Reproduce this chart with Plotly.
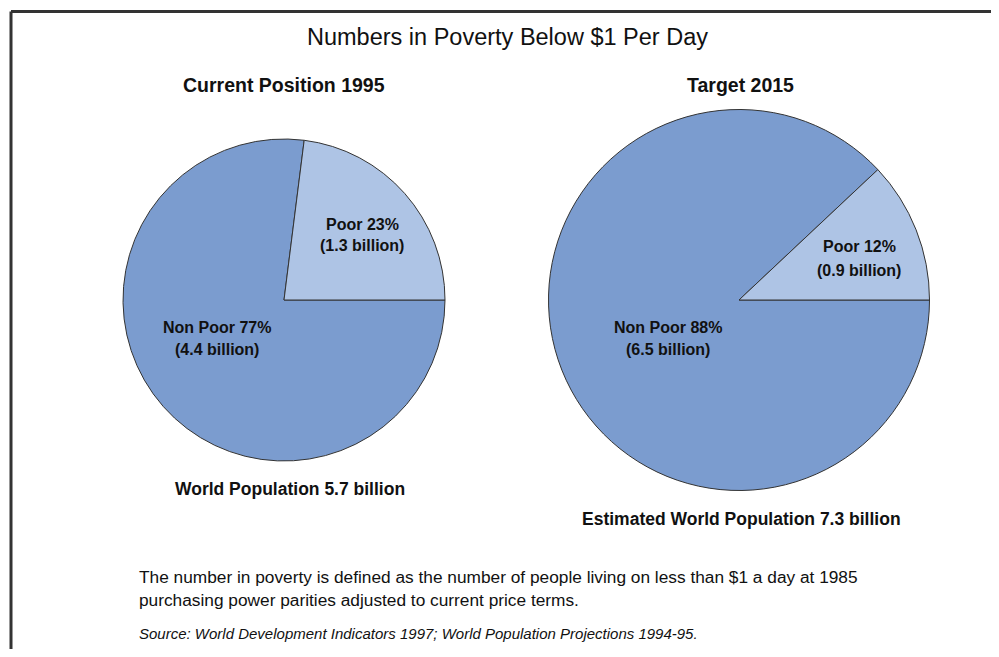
import plotly.graph_objects as go

# Page offset (browser body margin) compensation; keep page within the viewport
OFF = 8
W, H = 999 - 2 * OFF, 657 - 2 * OFF

# Data
categories = ["Non Poor", "Poor"]
values_1995 = [77, 23]
values_2015 = [88, 12]
billions_1995 = ["4.4", "1.3"]
billions_2015 = ["6.5", "0.9"]
population_1995 = "5.7"
population_2015 = "7.3"
colors = ["#7B9CCF", "#AEC4E5"]

def px_domain(cx, cy, r):
    cx -= OFF
    cy -= OFF
    return dict(x=[(cx - r) / W, (cx + r) / W], y=[1 - (cy + r) / H, 1 - (cy - r) / H])

fig = go.Figure()
fig.add_trace(go.Pie(labels=categories, values=values_1995, sort=False,
                     direction="clockwise", rotation=90,
                     marker=dict(colors=colors, line=dict(color="#333333", width=1)),
                     textinfo="none", hoverinfo="label+percent", showlegend=False,
                     domain=px_domain(284, 300, 161)))
fig.add_trace(go.Pie(labels=categories, values=values_2015, sort=False,
                     direction="clockwise", rotation=90,
                     marker=dict(colors=colors, line=dict(color="#333333", width=1)),
                     textinfo="none", hoverinfo="label+percent", showlegend=False,
                     domain=px_domain(739, 300, 190.5)))

def ann(x, y, text, size=16, bold=False, italic=False, xanchor="center",
        family="Liberation Sans", color="#111111"):
    t = text
    if bold:
        t = "<b>" + t + "</b>"
    if italic:
        t = "<i>" + t + "</i>"
    fig.add_annotation(x=(x - OFF) / W, y=1 - (y - OFF) / H, xref="paper", yref="paper", text=t,
                       showarrow=False, xanchor=xanchor, yanchor="middle",
                       font=dict(family=family, size=size, color=color))

ann(507, 37, "Numbers in Poverty Below $1 Per Day", size=23.5)
ann(284, 85, "Current Position 1995", size=19.5, bold=True)
ann(740, 85, "Target 2015", size=19.5, bold=True)

ann(362, 224, f"{categories[1]} {values_1995[1]}%", bold=True)
ann(362, 246, f"({billions_1995[1]} billion)", bold=True)
ann(217, 327, f"{categories[0]} {values_1995[0]}%", bold=True)
ann(217, 349, f"({billions_1995[0]} billion)", bold=True)
ann(290, 489, f"World Population {population_1995} billion", size=17.5, bold=True)

ann(859, 247, f"{categories[1]} {values_2015[1]}%", bold=True)
ann(859, 270, f"({billions_2015[1]} billion)", bold=True)
ann(668, 327, f"{categories[0]} {values_2015[0]}%", bold=True)
ann(668, 349, f"({billions_2015[0]} billion)", bold=True)
ann(741, 519, f"Estimated World Population {population_2015} billion", size=17.5, bold=True)

ann(137, 577, "The number in poverty is defined as the number of people living on less than $1 a day at 1985",
    size=17.3, xanchor="left")
ann(137, 600, "purchasing power parities adjusted to current price terms.", size=17.3, xanchor="left")
ann(137, 633, "Source: World Development Indicators 1997; World Population Projections 1994-95.",
    size=15, italic=True, xanchor="left")

# Frame: top and left edges only (right/bottom run off the page)
x_left = (11 - OFF) / W
y_top = 1 - (11.5 - OFF) / H
fig.add_shape(type="line", xref="paper", yref="paper",
              x0=x_left, x1=1.05, y0=y_top, y1=y_top,
              line=dict(color="#333333", width=3))
fig.add_shape(type="line", xref="paper", yref="paper",
              x0=x_left, x1=x_left, y0=-0.05, y1=y_top,
              line=dict(color="#333333", width=3))

fig.update_layout(width=W, height=H, margin=dict(l=0, r=0, t=0, b=0),
                  paper_bgcolor="white", plot_bgcolor="white")
fig.write_html("out.html")
